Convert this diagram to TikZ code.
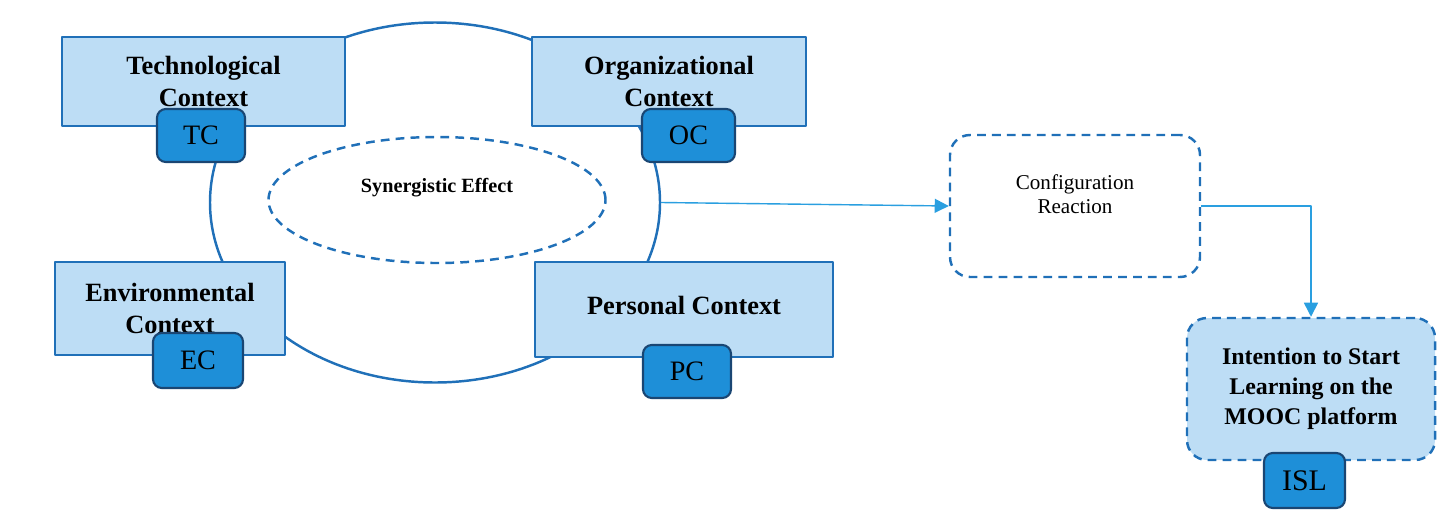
\documentclass[tikz,border=0pt]{standalone}
\usepackage{fontspec}
\setmainfont{Liberation Serif}
\usetikzlibrary{shapes.geometric,arrows.meta}
\definecolor{ctxfill}{RGB}{189,221,245}
\definecolor{ctxline}{RGB}{32,112,184}
\definecolor{tagfill}{RGB}{30,143,216}
\definecolor{tagline}{RGB}{26,70,115}
\definecolor{arrline}{RGB}{42,159,224}
\begin{document}
\begin{tikzpicture}[line join=round,
 ctx/.style={draw=ctxline,fill=ctxfill,line width=1.4pt,align=center,font=\fontsize{15}{18}\selectfont\bfseries},
 tag/.style={draw=tagline,fill=tagfill,line width=1.2pt,rounded corners=5pt,minimum width=1.76cm,minimum height=1.06cm,font=\fontsize{16}{18}\selectfont},
 dsh/.style={draw=ctxline,line width=1.4pt,dash pattern=on 5pt off 3.5pt},
 arr/.style={draw=arrline,line width=0.8pt,-{Triangle[length=8pt,width=8pt]}}]
 \useasboundingbox (0,0) rectangle (29.04,-10.56);
 % ring of contexts
 \node[draw=ctxline,line width=1.4pt,ellipse,minimum width=9cm,minimum height=7.2cm,inner sep=0pt] (ring) at (8.7,-4.05) {};
 \node[dsh,ellipse,minimum width=6.74cm,minimum height=2.52cm,inner sep=0pt,font=\fontsize{11.5}{13}\selectfont\bfseries] (syn) at (8.74,-4.0) {\raisebox{0.6cm}{Synergistic Effect}};
 \node[ctx,minimum width=5.66cm,minimum height=1.78cm] (tech) at (4.07,-1.63) {Technological\\Context};
 \node[ctx,minimum width=5.48cm,minimum height=1.78cm] (org) at (13.38,-1.63) {Organizational\\Context};
 \node[ctx,minimum width=4.6cm,minimum height=1.86cm] (env) at (3.4,-6.17) {Environmental\\Context};
 \node[ctx,minimum width=5.96cm,minimum height=1.9cm] (pers) at (13.68,-6.19) {\raisebox{0.18cm}{Personal Context}};
 \node[tag] (tc) at (4.02,-2.71) {TC};
 \node[tag,minimum width=1.86cm] (oc) at (13.77,-2.71) {OC};
 \node[tag,minimum width=1.8cm,minimum height=1.1cm] (ec) at (3.96,-7.21) {EC};
 \node[tag] (pc) at (13.74,-7.43) {PC};
 % reaction and outcome
 \node[dsh,rounded corners=0.4cm,minimum width=5cm,minimum height=2.84cm,align=center,font=\fontsize{12}{13.6}\selectfont] (conf) at (21.5,-4.12) {Configuration\\Reaction\\};
 \node[dsh,fill=ctxfill,rounded corners=0.4cm,minimum width=4.96cm,minimum height=2.84cm,align=center,font=\fontsize{13.6}{17}\selectfont\bfseries] (isl) at (26.22,-7.78) {Intention to Start\\Learning on the\\MOOC platform};
 \node[tag,minimum width=1.62cm,minimum height=1.1cm,font=\fontsize{17}{19}\selectfont] (islt) at (26.09,-9.61) {ISL};
 \draw[arr] (ring.east) -- (conf.west);
 \draw[arr] (conf.east) -| (isl.north);
\end{tikzpicture}
\end{document}
